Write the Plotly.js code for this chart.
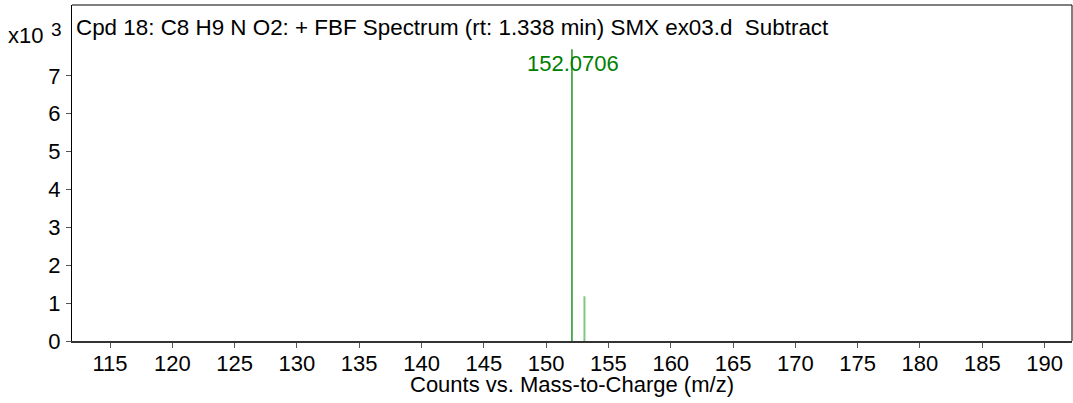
<!DOCTYPE html>
<html>
<head>
<meta charset="utf-8">
<script src="https://cdn.plot.ly/plotly-3.0.1.min.js"></script>
<style>html,body{margin:0;padding:0;background:#fff;}#chart{width:1073px;height:403px;}</style>
</head>
<body>
<div id="chart"></div>
<script>
// Data (intensity in x10^3 counts)
const peakMz = [152.0706, 153.0740];
const peakIntensity = [7.70, 1.18];
const peakColors = ["#008000", "#80c880"];
const peakWidths = [1.3, 2];
const labeledPeak = 0;
const labelText = ["152.0706"];
const xTickVals = [115,120,125,130,135,140,145,150,155,160,165,170,175,180,185,190];
const yTickVals = [0,1,2,3,4,5,6,7];
const titleText = "Cpd 18: C8 H9 N O2: + FBF Spectrum (rt: 1.338 min) SMX ex03.d \u00a0Subtract";
const xTitle = "Counts vs. Mass-to-Charge (m/z)";

const FONT = "Liberation Sans, Arial, sans-serif";
const FS = 22;

const traces = peakMz.map((mz, i) => ({
  x: [mz, mz],
  y: [0, peakIntensity[i]],
  mode: "lines",
  type: "scatter",
  line: {color: peakColors[i], width: peakWidths[i]},
  hoverinfo: "none",
  showlegend: false
}));

const layout = {
  width: 1073, height: 403,
  margin: {l: 72, r: 1, t: 5, b: 62},
  paper_bgcolor: "#fff", plot_bgcolor: "#fff",
  font: {family: FONT, size: FS, color: "#000"},
  showlegend: false,
  xaxis: {
    range: [111.95, 192.2],
    tickvals: xTickVals,
    ticktext: xTickVals.map(String),
    ticks: "outside", ticklen: 5, tickwidth: 1, tickcolor: "#555",
    showgrid: false, zeroline: false,
    showline: true, linecolor: "#333", linewidth: 2,
    tickfont: {family: FONT, size: FS, color: "#000"},
    ticklabelstandoff: -3,
    mirror: false
  },
  yaxis: {
    range: [0, 8.87],
    tickvals: yTickVals,
    ticktext: yTickVals.map(String),
    ticks: "outside", ticklen: 5, tickwidth: 1, tickcolor: "#555",
    showgrid: false, zeroline: false,
    showline: true, linecolor: "#000", linewidth: 1,
    tickfont: {family: FONT, size: FS, color: "#000"},
    ticklabelstandoff: 1
  },
  shapes: [
    {type: "line", xref: "paper", yref: "paper", x0: 0, x1: 1, y0: 1, y1: 1, line: {color: "#000", width: 1}},
    {type: "line", xref: "paper", yref: "paper", x0: 1, x1: 1, y0: 0, y1: 1, line: {color: "#000", width: 1}}
  ],
  annotations: [
    {xref: "paper", yref: "paper", x: 0, y: 1, xanchor: "left", yanchor: "top", xshift: 2, yshift: -8,
     text: titleText, showarrow: false, font: {family: FONT, size: 22.4, color: "#000"}},
    {xref: "paper", yref: "paper", x: 0, y: 1, xanchor: "right", yanchor: "top", xshift: -27, yshift: -16,
     text: "x10", showarrow: false, font: {family: FONT, size: FS, color: "#000"}},
    {xref: "paper", yref: "paper", x: 0, y: 1, xanchor: "right", yanchor: "top", xshift: -8, yshift: -12,
     text: "3", showarrow: false, font: {family: FONT, size: 19, color: "#000"}},
    {xref: "paper", yref: "paper", x: 0.5, y: 0, xanchor: "center", yanchor: "middle", yshift: -43,
     text: xTitle, showarrow: false, font: {family: FONT, size: FS, color: "#000"}},
    {x: peakMz[labeledPeak], y: peakIntensity[labeledPeak], xref: "x", yref: "y",
     xanchor: "center", yanchor: "top", yshift: 0, xshift: 1,
     text: labelText[0], showarrow: false, font: {family: FONT, size: FS, color: "#008000"}}
  ]
};

Plotly.newPlot("chart", traces, layout, {displayModeBar: false, staticPlot: true});
</script>
</body>
</html>
